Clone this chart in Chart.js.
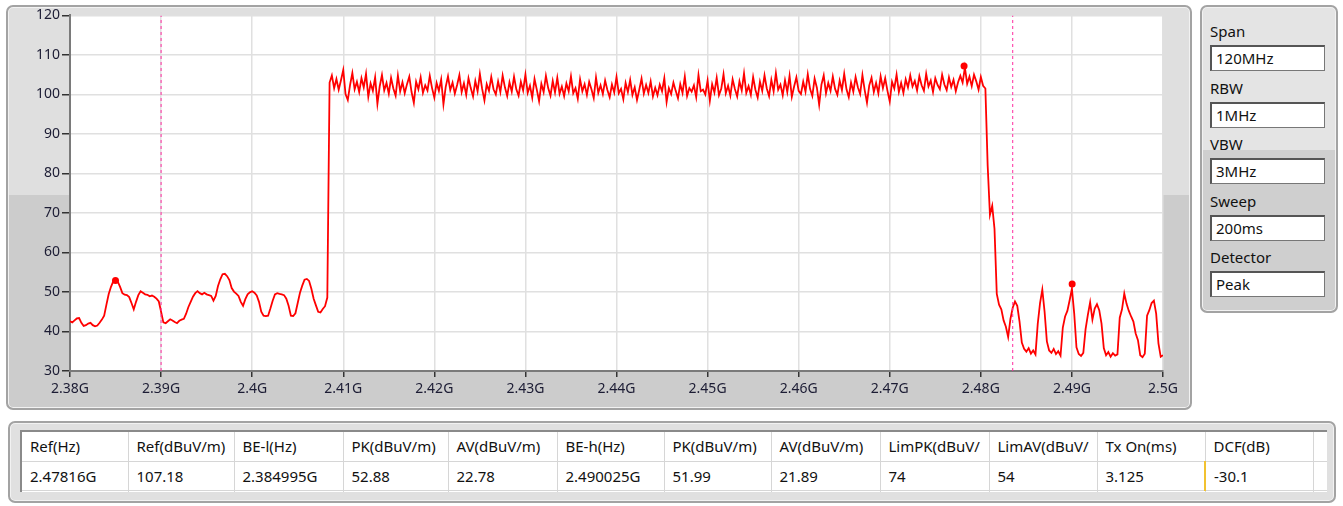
<!DOCTYPE html>
<html>
<head>
<meta charset="utf-8">
<script src="https://cdn.jsdelivr.net/npm/chart.js@4/dist/chart.umd.min.js"></script>
<style>
  body { margin: 0; width: 1343px; height: 506px; background: #fff; position: relative; overflow: hidden;
         font-family: 'Noto Sans', sans-serif; color: #111; }
  .frame { position: absolute; box-sizing: border-box; border: 2px solid #a3a3a3; border-radius: 7px;
           box-shadow: inset 0 0 0 1px #f2f2f2; }
  #chartFrame { left: 6px; top: 5px; width: 1186px; height: 405px;
                background: linear-gradient(#dfdfdf 0 188px, #cccccc 188px); }
  #spectrum { position: absolute; left: 6px; top: 5px; }
  #sidePanel { left: 1200px; top: 5px; width: 138px; height: 308px;
               background: linear-gradient(#e4e4e4 0 143px, #cfcfcf 143px); }
  .pLabel { position: absolute; left: 1210px; font-size: 15px; line-height: 20px; }
  .pBox { position: absolute; left: 1210px; width: 115px; height: 26px; box-sizing: border-box; background: #fff;
          border: 1px solid #777; border-top: 2px solid #555; border-left: 2px solid #555;
          font-size: 15px; line-height: 22px; padding-left: 4px; }
  #tableFrame { left: 8px; top: 421px; width: 1328px; height: 82px; background: #e0e0e0; }
  #tableInner { position: absolute; left: 20px; top: 430px; width: 1307px; height: 62px; background: #fff;
                border-left: 2px solid #8a8a8a; border-top: 2px solid #8a8a8a; box-sizing: border-box; overflow: hidden; }
  table { border-collapse: collapse; table-layout: fixed; font-size: 15px; }
  td { height: 29px; padding: 0 0 0 8px; border-right: 1px solid #d6d6d6; border-bottom: 1px solid #d6d6d6;
       white-space: nowrap; overflow: hidden; box-sizing: border-box; }
  .cursor { border-left: 2px solid #f2c230; }
</style>
</head>
<body>
<div id="chartFrame" class="frame"></div>
<canvas id="spectrum" width="1186" height="405"></canvas>
<div id="sidePanel" class="frame"></div>
<div id="tableFrame" class="frame"></div>
<div id="tableInner"><table id="results"></table></div>
<script>
// sweep: 2.38G .. 2.5G, one reading every 0.25 MHz
const sweepStepMHz = 0.25

// 2.380 .. 2.40825 GHz (below the band)
const lowBandStartMHz = 2380
const lowBandLevels = [
  42.6, 42.3, 42.8, 43.3, 43.4, 42.2, 41.4, 41.6, 42.0, 42.2,
  41.6, 41.3, 41.5, 42.2, 43.0, 44.0, 46.8, 49.5, 51.3, 52.7,
  53.2, 52.6, 51.3, 49.7, 49.3, 49.2, 48.7, 47.2, 45.6, 47.5,
  49.2, 50.2, 49.8, 49.4, 49.3, 48.9, 49.1, 48.8, 48.3, 47.6,
  45.0, 42.3, 42.1, 42.6, 43.1, 42.8, 42.4, 42.1, 42.7, 43.0,
  43.2, 44.5, 46.2, 47.5, 48.8, 49.7, 50.2, 49.7, 49.4, 49.8,
  49.4, 49.2, 49.0, 47.8, 49.0, 51.5, 53.2, 54.5, 54.6, 54.0,
  53.0, 51.0, 50.1, 49.6, 49.0, 47.5, 46.5, 48.2, 49.4, 49.9,
  50.2, 49.8, 49.1, 47.5, 45.0, 44.0, 43.9, 44.0, 45.8, 47.8,
  49.4, 49.7, 49.5, 49.4, 49.2, 48.3, 46.5, 44.0, 43.9, 44.6,
  47.2, 49.8, 51.6, 53.1, 53.3, 52.8, 50.8, 48.3, 46.6, 45.0,
  44.8, 45.7, 46.4, 48.6
]

// 2.4085 .. 2.48075 GHz (transmitter on)
const inBandStartMHz = 2408.5
const inBandLevels = [
  103.0, 104.8, 101.6, 103.9, 101.2, 103.6, 106.2, 100.1,
  98.6, 102.4, 105.4, 101.3, 103.2, 100.6, 104.1, 101.8,
  105.2, 99.4, 102.8, 100.9, 104.3, 97.6, 102.0, 104.9,
  101.0, 102.9, 100.2, 104.2, 101.5, 99.7, 104.8, 100.8,
  103.1, 100.3, 102.6, 104.5, 100.6, 97.9, 103.2, 101.3,
  104.3, 100.4, 102.3, 101.0, 104.7, 101.6, 99.2, 102.9,
  100.9, 103.8, 97.5, 101.9, 104.6, 101.1, 103.0, 100.2,
  102.4, 104.9, 100.6, 102.8, 99.9, 104.1, 101.6, 99.5,
  103.4, 100.8, 105.2, 101.4, 98.5, 102.6, 100.9, 104.4,
  101.3, 100.0, 103.3, 100.6, 104.8, 101.8, 99.6, 103.1,
  100.7, 104.5, 101.3, 99.7, 103.2, 101.0, 105.0, 100.4,
  102.2, 99.2, 103.9, 101.2, 98.3, 102.7, 100.6, 104.7,
  101.6, 99.7, 103.4, 100.5, 104.2, 100.2, 102.0, 99.6,
  102.8, 100.8, 104.6, 100.3, 101.6, 98.9, 103.8, 100.8,
  102.6, 99.9, 103.2, 101.3, 99.1, 104.3, 100.4, 102.3,
  100.1, 103.5, 101.1, 99.3, 102.5, 100.5, 104.4, 100.3,
  101.4, 98.8, 102.9, 100.6, 103.7, 99.9, 101.8, 98.6,
  101.2, 104.0, 100.2, 102.4, 100.4, 103.3, 99.5, 101.7,
  99.8, 102.5, 100.8, 104.1, 98.1, 101.6, 100.1, 103.0,
  100.9, 99.0, 102.6, 100.4, 104.5, 99.6, 101.6, 100.7,
  102.3, 99.3, 104.9, 100.8, 101.2, 100.0, 103.5, 98.4,
  102.6, 100.5, 104.2, 99.8, 101.4, 105.1, 100.3, 102.2,
  99.7, 103.8, 101.4, 99.5, 103.3, 101.0, 105.3, 100.4,
  102.1, 99.9, 104.4, 101.2, 99.2, 103.2, 100.9, 104.8,
  101.5, 99.6, 103.7, 100.8, 105.4, 101.2, 102.5, 99.8,
  103.6, 100.6, 104.7, 99.4, 102.0, 104.3, 100.9, 100.1,
  103.2, 100.7, 105.1, 101.4, 99.6, 104.0, 101.7, 97.4,
  102.5, 104.8, 100.3, 102.9, 100.9, 104.5, 101.4, 99.9,
  103.5, 101.1, 105.2, 101.3, 99.3, 103.0, 100.7, 104.4,
  101.8, 100.1, 104.9, 101.1, 97.9, 102.3, 104.2, 100.6,
  102.9, 100.3, 104.6, 101.6, 104.1, 100.9, 98.2, 103.2,
  101.5, 105.0, 100.6, 102.9, 100.4, 103.8, 101.8, 104.8,
  102.0, 103.4, 101.0, 104.6, 102.3, 100.9, 105.2, 102.0,
  103.5, 100.6, 104.1, 102.4, 101.3, 105.0, 102.5, 101.1,
  104.3, 101.9, 103.7, 100.8, 103.1, 104.7, 103.0, 106.8,
  102.7, 104.5, 102.1, 105.0, 103.3, 101.2, 104.4, 102.2,
  101.5, 82.0
]

// 2.481 .. 2.5 GHz (above the band)
const upperBandStartMHz = 2481
const upperBandLevels = [
  69.5, 71.8, 66.0, 49.5, 46.8, 45.6, 42.8, 41.2, 38.6, 43.2,
  46.0, 47.6, 46.5, 42.5, 37.2, 35.6, 34.9, 35.8, 34.4, 35.2,
  34.2, 42.0, 47.2, 50.6, 45.0, 37.5, 35.2, 34.6, 35.6, 34.3,
  35.0, 33.9, 41.0, 43.8, 45.2, 47.9, 50.8, 44.6, 36.0, 34.3,
  33.8, 34.6, 40.6, 44.2, 47.4, 43.0, 45.8, 46.9, 45.4, 42.0,
  35.8, 34.0, 34.8, 33.6, 34.5, 33.9, 34.2, 43.5, 45.6, 49.6,
  47.0, 45.2, 43.8, 42.5, 39.5, 37.8, 34.0, 33.5, 34.4, 44.0,
  45.4, 47.2, 47.8, 44.5, 37.0, 33.6, 34.0
]

// peak markers and band edges
const markerFreqMHz = [2384.995, 2478.16, 2490.025]
const markerLevels = [52.88, 107.18, 51.99]
const bandEdgeMHz = [2390, 2483.5]

// axis limits
const freqMinMHz = 2380
const freqMaxMHz = 2500
const levelMin = 30
const levelMax = 120

// settings panel and results table
const panelLabels = ['Span', 'RBW', 'VBW', 'Sweep', 'Detector']
const panelValues = ['120MHz', '1MHz', '3MHz', '200ms', 'Peak']
const tableHeaders = ['Ref(Hz)', 'Ref(dBuV/m)', 'BE-l(Hz)', 'PK(dBuV/m)', 'AV(dBuV/m)', 'BE-h(Hz)',
  'PK(dBuV/m)', 'AV(dBuV/m)', 'LimPK(dBuV/', 'LimAV(dBuV/', 'Tx On(ms)', 'DCF(dB)']
const tableValues = ['2.47816G', '107.18', '2.384995G', '52.88', '22.78', '2.490025G',
  '51.99', '21.89', '74', '54', '3.125', '-30.1']

const toPoints = (start, levels) => levels.map((y, i) => ({ x: start + i * sweepStepMHz, y }))
const trace = [
  ...toPoints(lowBandStartMHz, lowBandLevels),
  ...toPoints(inBandStartMHz, inBandLevels),
  ...toPoints(upperBandStartMHz, upperBandLevels),
]

const edgeSets = bandEdgeMHz.map(f => ({
  data: [{ x: f, y: levelMin }, { x: f, y: levelMax }],
  borderColor: '#ff2da0',
  borderWidth: 1,
  borderDash: [3, 3],
  pointRadius: 0,
}))

const plotBackground = {
  id: 'plotBackground',
  beforeDraw(chart) {
    const { ctx, chartArea: a } = chart
    ctx.save()
    ctx.fillStyle = '#ffffff'
    ctx.fillRect(a.left, a.top, a.right - a.left, a.bottom - a.top)
    ctx.restore()
  },
}

const tickFont = { family: "'Noto Sans', sans-serif", size: 14 }

// eslint-disable-next-line no-unused-vars
const spectrum = new Chart(document.getElementById('spectrum'), {
  type: 'line',
  data: {
    datasets: [
      ...edgeSets,
      {
        data: trace,
        borderColor: '#ff0000',
        borderWidth: 1.8,
        pointRadius: 0,
        tension: 0,
      },
      {
        data: markerFreqMHz.map((x, i) => ({ x, y: markerLevels[i] })),
        showLine: false,
        pointRadius: 3.5,
        pointBackgroundColor: '#ff0000',
        pointBorderWidth: 0,
      },
    ],
  },
  options: {
    responsive: false,
    animation: false,
    events: [],
    layout: { autoPadding: false, padding: { left: 4, top: 10, right: 29, bottom: 8 } },
    plugins: { legend: { display: false }, tooltip: { enabled: false } },
    scales: {
      x: {
        type: 'linear',
        min: freqMinMHz,
        max: freqMaxMHz,
        afterFit: s => { s.height = 31 },
        grid: { color: '#e0e0e0', lineWidth: 1.5, tickColor: '#333', tickLength: 6 },
        border: { color: '#7a7a7a', width: 2 },
        ticks: {
          stepSize: 10,
          padding: 4,
          maxRotation: 0,
          autoSkip: false,
          color: '#1c1c34',
          font: tickFont,
          callback: v => +(v / 1000).toFixed(3) + 'G',
        },
      },
      y: {
        min: levelMin,
        max: levelMax,
        afterFit: s => { s.width = 60 },
        grid: { color: '#e0e0e0', lineWidth: 1.5, tickColor: '#333', tickLength: 8 },
        border: { color: '#7a7a7a', width: 2 },
        ticks: { stepSize: 10, padding: 2, color: '#1c1c34', font: tickFont },
      },
    },
  },
  plugins: [plotBackground],
})

// settings panel
panelLabels.forEach((name, i) => {
  const top = 21 + i * 56.6
  const label = document.createElement('div')
  label.className = 'pLabel'
  label.style.top = top + 'px'
  label.textContent = name
  document.body.appendChild(label)
  const box = document.createElement('div')
  box.className = 'pBox'
  box.style.top = (top + 24) + 'px'
  box.textContent = panelValues[i]
  document.body.appendChild(box)
})

// results table
const colWidths = [106, 106, 109, 105, 109, 107, 107, 109, 109, 108, 108, 108, 20]
const table = document.getElementById('results')
const colgroup = document.createElement('colgroup')
colWidths.forEach(w => {
  const c = document.createElement('col')
  c.style.width = w + 'px'
  colgroup.appendChild(c)
})
table.appendChild(colgroup)
table.style.width = colWidths.reduce((a, b) => a + b, 0) + 'px'
;[tableHeaders, tableValues, tableHeaders.map(() => '')].forEach((row, r) => {
  const tr = document.createElement('tr')
  row.concat(['']).forEach((text, c) => {
    const td = document.createElement('td')
    td.textContent = text
    if (r === 1 && c === 11) td.className = 'cursor'
    tr.appendChild(td)
  })
  table.appendChild(tr)
})
</script>
</body>
</html>
